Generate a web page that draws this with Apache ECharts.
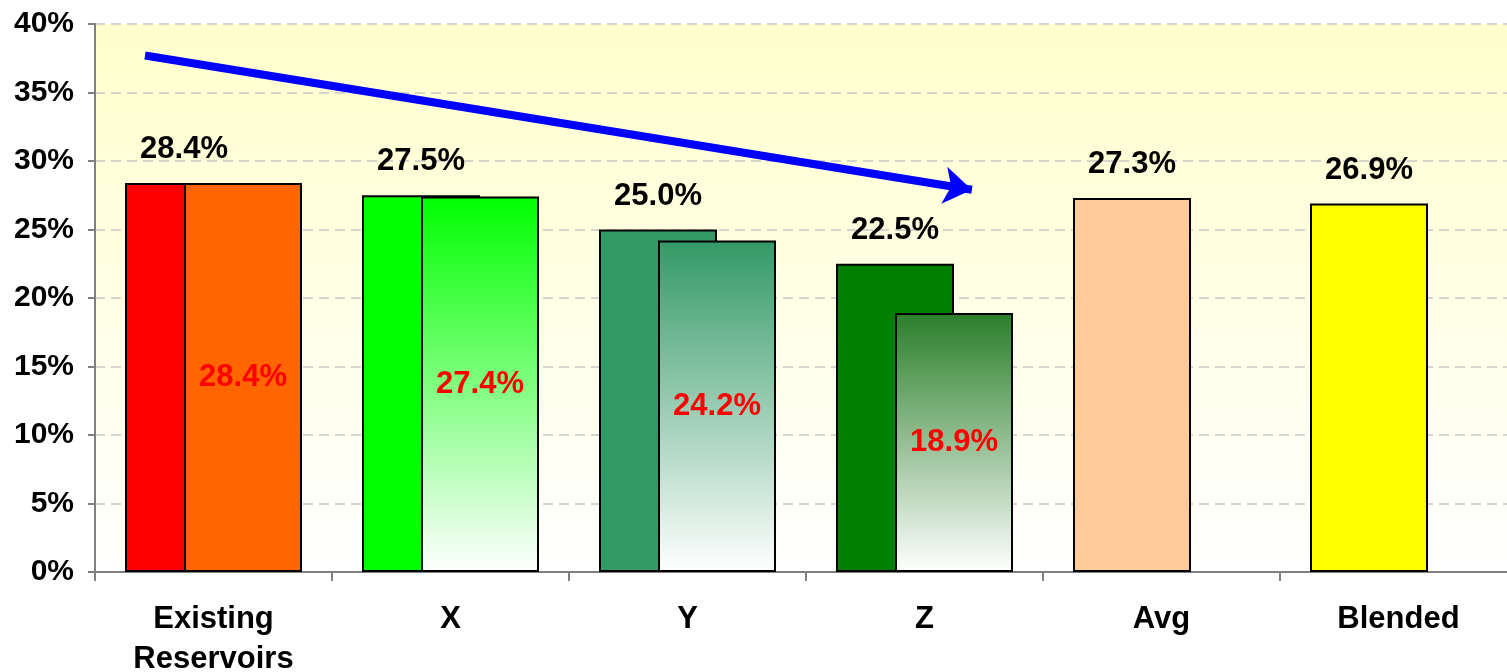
<!DOCTYPE html>
<html><head><meta charset="utf-8">
<script src="https://cdn.jsdelivr.net/npm/echarts@6/dist/echarts.min.js"></script>
<style>html,body{margin:0;padding:0;background:#fff}#c{width:1507px;height:672px}</style>
</head><body><div id="c"></div>
<script>
const categories = ['Existing\nReservoirs', 'X', 'Y', 'Z', 'Avg', 'Blended'];
const frontValues = [28.4, 27.5, 25.0, 22.5, 27.3, 26.9];
const backValues = [28.4, 27.4, 24.2, 18.9, null, null];
const frontColors = ['#FF0000', '#00FF00', '#339966', '#008000', '#FFCC99', '#FFFF00'];
const backColors = ['#FF6600', '#00FF00', '#339966', '#2A7F2A', null, null];
const backGradient = [false, true, true, true, false, false];
const yTicks = {min: 0, max: 40, interval: 5};
const arrowStart = [0.211, 37.7];
const arrowEnd = [3.7, 27.9];

const FONT = '"Liberation Sans", Arial, sans-serif';
const fmt = p => p.value == null ? '' : Number(p.value).toFixed(1) + '%';

const chart = echarts.init(document.getElementById('c'));
chart.setOption({
  animation: false,
  grid: {
    left: 95, right: -10, top: 24, bottom: 100, show: true, borderWidth: 0,
    containLabel: false, outerBoundsMode: 'none',
    backgroundColor: {type: 'linear', x: 0, y: 0, x2: 0, y2: 1,
      colorStops: [{offset: 0, color: '#FFFFCC'}, {offset: 1, color: '#FFFFFF'}]}
  },
  xAxis: [{
    type: 'category', data: categories,
    axisLine: {lineStyle: {color: '#808080', width: 2}},
    axisTick: {show: true, length: 9, lineStyle: {color: '#808080', width: 2}},
    axisLabel: {fontFamily: FONT, fontWeight: 'bold', fontSize: 31, color: '#000', lineHeight: 40, margin: 27, interval: 0}
  }, {
    type: 'value', min: 0, max: 6, show: false
  }],
  yAxis: {
    type: 'value', min: yTicks.min, max: yTicks.max, interval: yTicks.interval,
    axisLine: {show: true, lineStyle: {color: '#808080', width: 2}},
    axisTick: {show: true, length: 7, lineStyle: {color: '#808080', width: 2}},
    axisLabel: {formatter: '{value}%', fontFamily: FONT, fontWeight: 'bold', fontSize: 30, color: '#000', margin: 21},
    splitLine: {show: true, lineStyle: {color: '#C8C8C8', type: [10, 6], width: 1.5}}
  },
  series: [{
    type: 'bar', barWidth: 118, barGap: '-50%',
    data: frontValues.map((v, i) => ({value: v, itemStyle: {color: frontColors[i], borderColor: '#000', borderWidth: 2}})),
    label: {show: true, position: 'top', distance: 18, formatter: fmt,
      fontFamily: FONT, fontWeight: 'bold', fontSize: 31, color: '#000'}
  }, {
    type: 'bar', barWidth: 118, barGap: '-50%',
    data: backValues.map((v, i) => ({value: v, itemStyle: {
      color: backGradient[i] ? {type: 'linear', x: 0, y: 0, x2: 0, y2: 1,
        colorStops: [{offset: 0, color: backColors[i]}, {offset: 1, color: '#FFFFFF'}]} : backColors[i],
      borderColor: '#000', borderWidth: 2}})),
    label: {show: true, position: 'inside', formatter: fmt,
      fontFamily: FONT, fontWeight: 'bold', fontSize: 31, color: '#FF0000'}
  }, {
    type: 'scatter', xAxisIndex: 1, data: [], silent: true,
    markLine: {
      silent: true, symbol: ['none', 'arrow'], symbolSize: 28,
      label: {show: false},
      lineStyle: {color: '#0000FF', width: 8, type: 'solid'},
      data: [[{coord: arrowStart}, {coord: arrowEnd}]]
    }
  }]
});
</script></body></html>
